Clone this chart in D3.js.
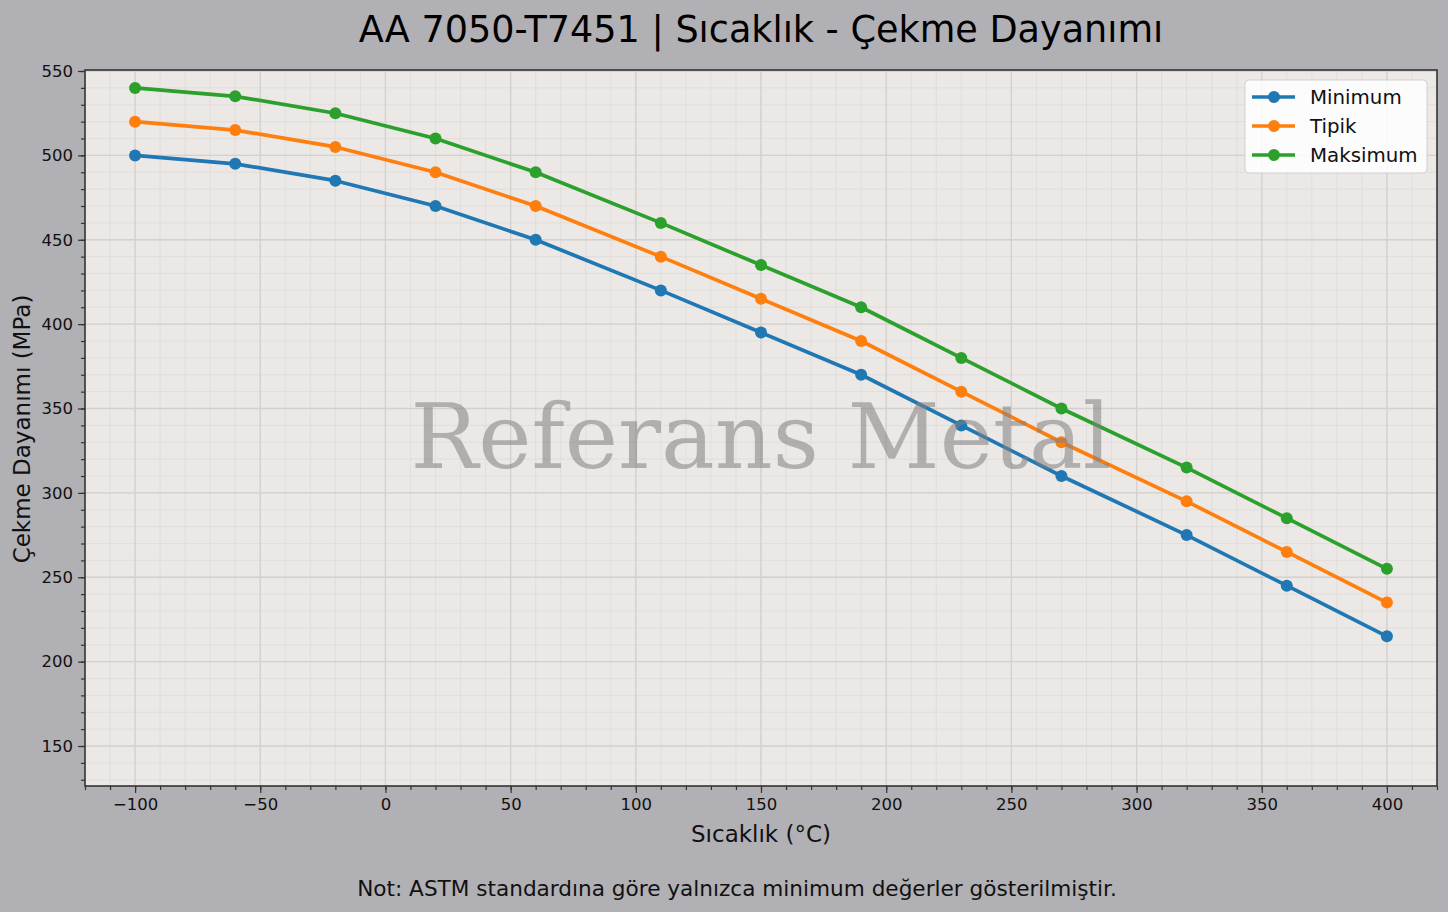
<!DOCTYPE html>
<html>
<head>
<meta charset="utf-8">
<script src="https://cdn.jsdelivr.net/npm/d3@7"></script>
<style>
  body { margin: 0; background: #b1b0b5; }
  svg { display: block; font-family: "DejaVu Sans", sans-serif; }
</style>
</head>
<body>
<div id="chart"></div>
<script>
// veriler
var temps = [-100, -60, -20, 20, 60, 110, 150, 190, 230, 270, 320, 360, 400];
var minVals = [500, 495, 485, 470, 450, 420, 395, 370, 340, 310, 275, 245, 215];
var tipVals = [520, 515, 505, 490, 470, 440, 415, 390, 360, 330, 295, 265, 235];
var maxVals = [540, 535, 525, 510, 490, 460, 435, 410, 380, 350, 315, 285, 255];
var seriesNames = ["Minimum", "Tipik", "Maksimum"];
var xTicks = [-100, -50, 0, 50, 100, 150, 200, 250, 300, 350, 400];
var yTicks = [150, 200, 250, 300, 350, 400, 450, 500, 550];

var colors = ["#1f77b4", "#ff7f0e", "#2ca02c"];
var series = [minVals, tipVals, maxVals];

var W = 1448, H = 912;
var margin = {top: 70, right: 11, bottom: 126, left: 85},
    width = W - margin.left - margin.right,
    height = H - margin.top - margin.bottom;

var svg = d3.select("#chart").append("svg")
    .attr("width", W).attr("height", H);

svg.append("rect").attr("width", W).attr("height", H).attr("fill", "#b1b0b5");

var g = svg.append("g")
    .attr("transform", "translate(" + margin.left + "," + margin.top + ")");

var x = d3.scaleLinear().domain([-120, 420]).range([0, width]);
var y = d3.scaleLinear().domain([126.3, 550.6]).range([height, 0]);

g.append("rect").attr("width", width).attr("height", height).attr("fill", "#ebe8e6");

// ızgara (minor + major)
var xMinor = d3.range(-120, 421, 10);
var yMinor = d3.range(130, 551, 10);
g.append("g").selectAll("line").data(xMinor).enter().append("line")
    .attr("x1", function(d) { return x(d); }).attr("x2", function(d) { return x(d); })
    .attr("y1", 0).attr("y2", height)
    .attr("stroke", "#dad7d5").attr("stroke-width", 0.6);
g.append("g").selectAll("line").data(yMinor).enter().append("line")
    .attr("y1", function(d) { return y(d); }).attr("y2", function(d) { return y(d); })
    .attr("x1", 0).attr("x2", width)
    .attr("stroke", "#dad7d5").attr("stroke-width", 0.6);
g.append("g").selectAll("line").data(xTicks).enter().append("line")
    .attr("x1", function(d) { return x(d); }).attr("x2", function(d) { return x(d); })
    .attr("y1", 0).attr("y2", height)
    .attr("stroke", "#d3d0ce").attr("stroke-width", 1.3);
g.append("g").selectAll("line").data(yTicks).enter().append("line")
    .attr("y1", function(d) { return y(d); }).attr("y2", function(d) { return y(d); })
    .attr("x1", 0).attr("x2", width)
    .attr("stroke", "#d3d0ce").attr("stroke-width", 1.3);

// eksenler
var fmt = function(d) { return d < 0 ? "\u2212" + Math.abs(d) : d; };
var xAxis = g.append("g").attr("transform", "translate(0," + height + ")")
    .call(d3.axisBottom(x).tickValues(xTicks).tickFormat(fmt).tickSize(7).tickPadding(5));
var xAxisMinor = g.append("g").attr("transform", "translate(0," + height + ")")
    .call(d3.axisBottom(x).tickValues(xMinor).tickFormat("").tickSize(4));
var yAxis = g.append("g")
    .call(d3.axisLeft(y).tickValues(yTicks).tickSize(7).tickPadding(5));
var yAxisMinor = g.append("g")
    .call(d3.axisLeft(y).tickValues(yMinor).tickFormat("").tickSize(4));
[xAxis, xAxisMinor, yAxis, yAxisMinor].forEach(function(a) {
    a.select(".domain").remove();
    a.selectAll("line").attr("stroke", "#333").attr("stroke-width", 1.2);
    a.selectAll("text").attr("fill", "#111").style("font-size", "16.5px")
        .style("font-family", "DejaVu Sans");
});

// veri çizgileri
var line = d3.line()
    .x(function(d, i) { return x(temps[i]); })
    .y(function(d) { return y(d); });

series.forEach(function(s, k) {
    g.append("path").datum(s)
        .attr("d", line)
        .attr("fill", "none")
        .attr("stroke", colors[k])
        .attr("stroke-width", 3.7)
        .attr("stroke-linejoin", "round");
    g.selectAll(".dot" + k).data(s).enter().append("circle")
        .attr("cx", function(d, i) { return x(temps[i]); })
        .attr("cy", function(d) { return y(d); })
        .attr("r", 6)
        .attr("fill", colors[k]);
});

// filigran
g.append("text")
    .attr("x", x(150)).attr("y", y(315))
    .attr("text-anchor", "middle")
    .style("font-family", "DejaVu Serif")
    .style("font-size", "90px")
    .attr("fill", "#808080").attr("fill-opacity", 0.55)
    .text("Referans Metal");

// çerçeve
g.append("rect").attr("width", width).attr("height", height)
    .attr("fill", "none").attr("stroke", "#333").attr("stroke-width", 1.6);

// lejant
var lg = g.append("g").attr("transform", "translate(" + (1245 - margin.left) + "," + (80 - margin.top) + ")");
lg.append("rect").attr("width", 182).attr("height", 93).attr("rx", 4)
    .attr("fill", "#ffffff").attr("fill-opacity", 0.85)
    .attr("stroke", "#d0d0d0").attr("stroke-width", 1);
seriesNames.forEach(function(n, k) {
    var yy = 17 + k * 29;
    lg.append("line").attr("x1", 7).attr("x2", 50).attr("y1", yy).attr("y2", yy)
        .attr("stroke", colors[k]).attr("stroke-width", 3.7);
    lg.append("circle").attr("cx", 29).attr("cy", yy).attr("r", 6).attr("fill", colors[k]);
    lg.append("text").attr("x", 65).attr("y", yy + 7)
        .style("font-size", "19.8px").attr("fill", "#111").text(n);
});

// başlıklar
svg.append("text").attr("x", 761).attr("y", 42).attr("text-anchor", "middle")
    .style("font-size", "36.6px").attr("fill", "#000")
    .text("AA 7050-T7451 | Sıcaklık - Çekme Dayanımı");
svg.append("text").attr("x", 761).attr("y", 842).attr("text-anchor", "middle")
    .style("font-size", "23px").attr("fill", "#111")
    .text("Sıcaklık (°C)");
svg.append("text").attr("transform", "translate(30,429) rotate(-90)")
    .attr("text-anchor", "middle")
    .style("font-size", "23px").attr("fill", "#111")
    .text("Çekme Dayanımı (MPa)");
svg.append("text").attr("x", 737).attr("y", 896).attr("text-anchor", "middle")
    .style("font-size", "21.6px").attr("fill", "#111")
    .text("Not: ASTM standardına göre yalnızca minimum değerler gösterilmiştir.");
</script>
</body>
</html>
